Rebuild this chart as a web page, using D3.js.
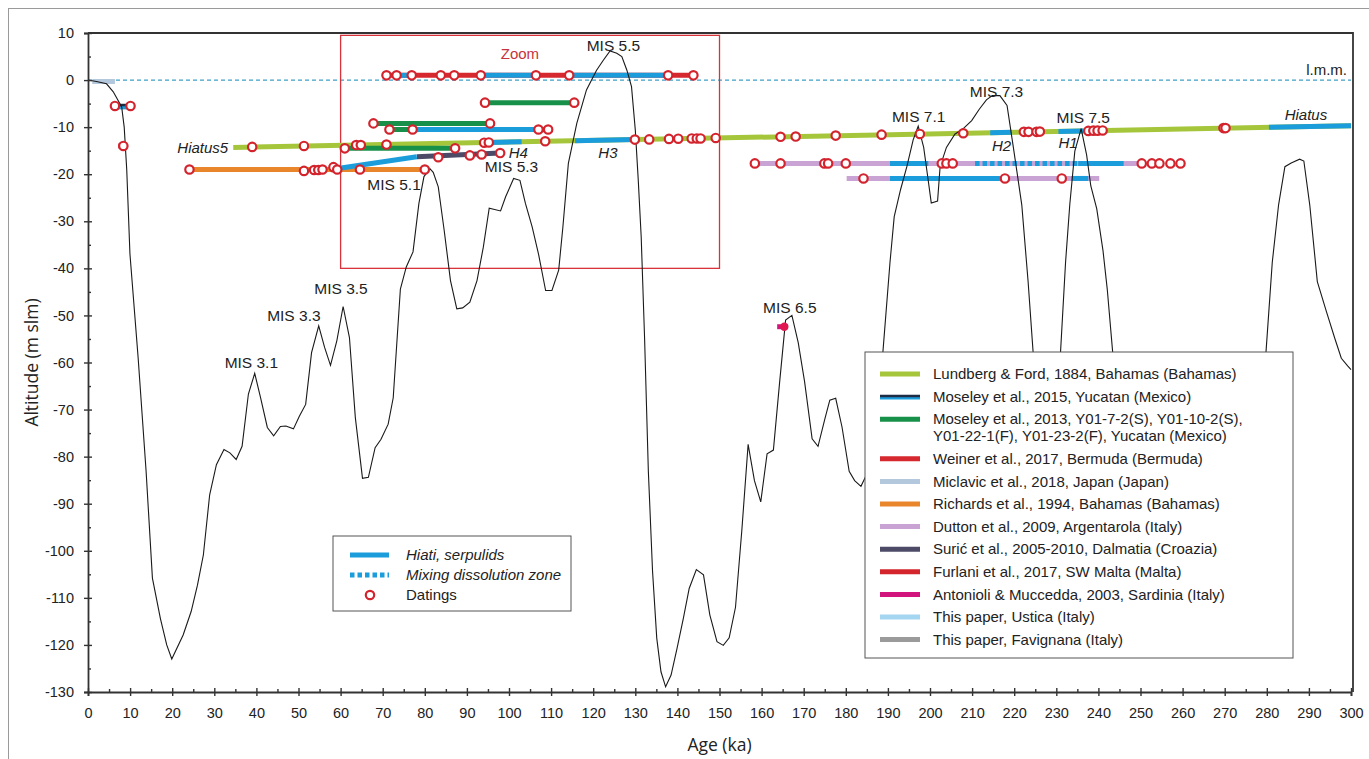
<!DOCTYPE html>
<html>
<head>
<meta charset="utf-8">
<script src="https://cdn.jsdelivr.net/npm/d3@7"></script>
<style>
  body { margin: 0; background: #fff; }
  text { font-family: "Liberation Sans", Arial, sans-serif; fill: #222; }
</style>
</head>
<body>
<div id="chart"></div>
<script>
// sea level curve (age ka, altitude m)
const seaLevel = [[0,0],[2,-0.3],[4.4,-0.8],[6,-2.5],[8,-5.7],[8.6,-10],[9.2,-19],[9.96,-36.9],[11.9,-58.9],[13.8,-83.1],[15.3,-105.8],[17.2,-114.4],[18.7,-120],[19.9,-123],[22.6,-117.9],[24.5,-112.9],[26,-107.3],[27.4,-100.9],[28.9,-88.1],[30.5,-81.7],[32.3,-78.5],[33.7,-79.2],[35.2,-80.6],[36.6,-77.8],[38.1,-66.7],[39.6,-62.3],[41,-67.5],[42.6,-73.8],[44.1,-75.6],[45.7,-73.6],[47,-73.5],[48.8,-74.1],[50.2,-71.4],[51.7,-68.9],[53.1,-57.9],[54.8,-52.2],[56.2,-56.8],[57.6,-60.6],[59.1,-55.4],[60.6,-48.1],[62.1,-54.7],[63.5,-71.7],[65.2,-84.6],[66.6,-84.4],[68.2,-78.1],[69.6,-76.3],[71.3,-73.1],[72.5,-67.5],[74.2,-44.4],[75.6,-39.7],[77.2,-36.5],[78.6,-26.2],[79.8,-20.5],[81.2,-18.8],[82,-19.6],[83.2,-22.7],[84.6,-31.9],[86.1,-42.6],[87.6,-48.6],[89,-48.4],[90.7,-47.2],[92.4,-42.6],[93.9,-35.5],[95.3,-27.2],[98,-27.8],[99.2,-24.8],[101.1,-20.9],[102.6,-21.3],[103.9,-26.2],[105.5,-31.2],[107,-36.9],[108.7,-44.7],[110.2,-44.7],[111.8,-40.4],[112.8,-31.2],[114.1,-17.7],[116.1,-9.2],[118.4,-2.1],[120.8,2.1],[122.4,4.2],[124,6.2],[125.6,5.7],[126.8,5],[128,2.1],[129.1,-1.4],[130,-10.6],[130.7,-21.2],[131.4,-33.3],[132.2,-54.7],[133.1,-83.1],[134.1,-104.4],[135.1,-118.6],[136.1,-125.7],[137.2,-128.9],[138.5,-126.4],[139.9,-120.8],[141.4,-114.4],[142.8,-108],[144.5,-104],[146.2,-105.1],[147.7,-113.6],[149.4,-119.3],[150.9,-120.1],[152.3,-118.5],[153.8,-112],[155.3,-95.7],[156.8,-77.4],[158.3,-85.1],[159.8,-89.6],[161.3,-79.4],[162.8,-78.6],[164.3,-64],[165.7,-51],[167.2,-50],[168.7,-55.8],[170.2,-64],[172,-76.2],[173.4,-77.8],[175,-72.1],[176.2,-68],[177.6,-67.6],[179.1,-73.7],[180.8,-83.1],[182.1,-85.1],[183.6,-86.3],[185.1,-83.5],[187,-72],[188.8,-57.9],[190.5,-38.7],[191.5,-29],[193,-23.3],[194.5,-18.4],[196,-12.7],[197.2,-9.8],[198.5,-14.3],[199.5,-20.8],[200.3,-26.1],[201.8,-25.7],[202.4,-18.4],[203.9,-14.3],[205.9,-11.5],[207.9,-10.3],[209.9,-8.6],[211.7,-6.2],[213.4,-4.2],[214.8,-3.3],[216.6,-3.3],[218.3,-5.4],[219.8,-14.3],[221.8,-26.5],[223.3,-42.8],[224.5,-57.9],[226,-68],[228,-70],[230,-64],[231,-57.9],[232.2,-38.7],[233.2,-26.5],[234.4,-15.1],[235.9,-10.3],[237.2,-15.9],[238.2,-22.5],[239.6,-27.3],[241.1,-36.3],[242.1,-44.4],[243.4,-57.9],[246,-75],[250,-90],[256,-100],[262,-95],[268,-85],[274,-75],[279.8,-57.9],[281.3,-38.7],[282.8,-26.5],[284.3,-18.4],[285.8,-17.6],[287.8,-16.8],[288.8,-17.2],[290.2,-26.5],[292,-42.8],[294.2,-49.3],[296.2,-55],[297.7,-59.1],[299.2,-60.7],[300,-61.5]];

const seriesKeys = ["lundberg","moseley15","moseley13","weiner","miclavic","richards","dutton","suric","furlani","antonioli","ustica","favignana"];
const seriesLabels = [
  ["Lundberg & Ford, 1884, Bahamas (Bahamas)"],
  ["Moseley et al., 2015, Yucatan (Mexico)"],
  ["Moseley et al., 2013, Y01-7-2(S), Y01-10-2(S),", "Y01-22-1(F), Y01-23-2(F), Yucatan (Mexico)"],
  ["Weiner et al., 2017, Bermuda (Bermuda)"],
  ["Miclavic et al., 2018, Japan (Japan)"],
  ["Richards et al., 1994, Bahamas (Bahamas)"],
  ["Dutton et al., 2009, Argentarola (Italy)"],
  ["Surić et al., 2005-2010, Dalmatia (Croazia)"],
  ["Furlani et al., 2017, SW Malta (Malta)"],
  ["Antonioli & Muccedda, 2003, Sardinia (Italy)"],
  ["This paper, Ustica (Italy)"],
  ["This paper, Favignana (Italy)"]
];

// speleothem / core series: [series, [[age, alt], ...]]
const seriesLines = [
  ["lundberg", [[34.5,-14.3],[300,-9.7]]],
  ["moseley15", [[6.4,-5.5],[10.1,-5.5]]],
  ["moseley13", [[94.3,-4.8],[115.5,-4.8]]],
  ["moseley13", [[67.8,-9.2],[95.5,-9.2]]],
  ["moseley13", [[71.6,-10.5],[109.3,-10.5]]],
  ["moseley13", [[61.0,-14.5],[87.2,-14.5]]],
  ["weiner", [[70.9,1.0],[143.8,1.0]]],
  ["richards", [[24.1,-19.0],[80.0,-19.0]]],
  ["suric", [[78.1,-16.3],[97.9,-15.5]]],
  ["dutton", [[158.4,-17.7],[250,-17.7]]],
  ["dutton", [[180.2,-20.9],[240.2,-20.9]]],
  ["furlani", [[7.2,-14.0],[8.4,-14.0]]],
  ["antonioli", [[163.7,-52.4],[166.2,-52.4]]],
  ["miclavic", [[1.0,-0.3],[6.4,-0.3]]]
];

// hiati (serpulids)
const hiati = [
  [[73.3,1.0],[76.9,1.0]],
  [[93.9,1.0],[106.4,1.0]],
  [[114.3,1.0],[137.8,1.0]],
  [[77.1,-10.5],[107.0,-10.5]],
  [[95.3,-13.25],[103.0,-13.11]],
  [[115.7,-12.89],[129.9,-12.65]],
  [[214.3,-11.18],[219.4,-11.1]],
  [[230.5,-10.9],[236.4,-10.8]],
  [[280.5,-10.04],[300,-9.7]],
  [[58.5,-18.9],[78.1,-16.3]],
  [[190.5,-17.7],[199.6,-17.7]],
  [[235.2,-17.7],[246.0,-17.7]],
  [[190.5,-20.9],[216.6,-20.9]],
  [[233.6,-20.9],[237.6,-20.9]]
];
const mixingZones = [[[210.7,-17.7],[235.2,-17.7]]];

const datings = [
  [6.4,-5.5],[10.1,-5.5],[8.4,-14.0],
  [39.0,-14.2],[51.3,-14.0],[63.7,-13.8],[64.8,-13.8],[70.9,-13.7],[94.1,-13.3],[95.2,-13.25],[108.6,-13.0],[129.9,-12.65],[133.3,-12.6],[138.0,-12.5],[140.2,-12.45],[143.4,-12.4],[144.6,-12.4],[145.5,-12.4],[149.1,-12.3],[164.5,-12.05],[168.1,-12.0],[177.6,-11.8],[188.5,-11.6],[197.6,-11.45],[207.9,-11.3],[222.3,-11.0],[223.4,-11.0],[225.3,-11.0],[226.1,-10.95],[237.6,-10.8],[238.8,-10.75],[239.8,-10.75],[241.0,-10.7],[269.7,-10.2],[270.2,-10.2],
  [61.0,-14.5],[87.2,-14.5],[94.3,-4.8],[115.5,-4.8],[67.8,-9.2],[95.5,-9.2],[71.6,-10.5],[77.1,-10.5],[107.0,-10.5],[109.3,-10.5],
  [70.9,1.0],[73.3,1.0],[76.9,1.0],[83.8,1.0],[87.0,1.0],[93.3,1.0],[106.4,1.0],[114.3,1.0],[137.8,1.0],[143.8,1.0],
  [24.1,-19.0],[51.3,-19.3],[53.7,-19.1],[54.7,-19.1],[55.7,-19.0],[58.3,-18.5],[59.2,-19.0],[64.6,-19.0],[80.0,-19.0],
  [83.2,-16.4],[90.7,-16.0],[93.5,-15.8],[97.9,-15.5],
  [158.4,-17.7],[164.5,-17.7],[174.9,-17.7],[175.8,-17.7],[180.0,-17.7],[202.8,-17.7],[203.9,-17.7],[205.4,-17.7],[250.3,-17.7],[252.7,-17.7],[254.5,-17.7],[257.1,-17.7],[259.5,-17.7],
  [184.2,-20.9],[217.8,-20.9],[231.3,-20.9]
];
const filledDatings = [[165.4,-52.4]];

const misLabels = [["MIS 3.1",38.8,-60.1],["MIS 3.3",48.9,-50.1],["MIS 3.5",60.1,-44.4],["MIS 5.1",72.7,-22.3],["MIS 5.3",100.6,-18.4],["MIS 5.5",124.8,7.4],["MIS 6.5",166.7,-48.4],["MIS 7.1",197.3,-7.8],["MIS 7.3",215.8,-2.5],["MIS 7.5",236.4,-7.9]];
const hiatusLabels = [["Hiatus5",33.3,-14.3],["H4",102.2,-15.4],["H3",123.5,-15.4],["H2",217,-14.0],["H1",232.8,-13.3],["Hiatus",289.3,-7.4]];
const zoomBox = [[60,9.5],[150,-40]];

const xTicks = d3.range(0, 301, 10);
const yTicks = d3.range(-130, 11, 10);

const colors = {
  lundberg: "#a5c63b", moseley15: "#1d2b45", moseley13: "#17904a", weiner: "#d6282f",
  miclavic: "#b3c8dc", richards: "#e9862c", dutton: "#c9a3d3", suric: "#4c4a66",
  furlani: "#d4252c", antonioli: "#d1157d", ustica: "#a5d6f1", favignana: "#9a9a9a"
};
const hiatusColor = "#1c9ddb";
const datingColor = "#d3242e";

const width = 1369, height = 759;
const svg = d3.select("#chart").append("svg").attr("width", width).attr("height", height);

// figure frame
svg.append("rect").attr("x", 8.5).attr("y", 8.5).attr("width", 1362).attr("height", 752)
  .attr("fill", "none").attr("stroke", "#9a9a9a").attr("stroke-width", 1);

const x = d3.scaleLinear().domain([0, 300]).range([88, 1351]);
const y = d3.scaleLinear().domain([-130, 10]).range([692, 33]);
const line = d3.line().x(d => x(d[0])).y(d => y(d[1]));

// top and right frame of the plot
svg.append("path")
  .attr("d", `M${x(0)},${y(10)}H${x(300) + 2}V${y(-130)}`)
  .attr("fill", "none").attr("stroke", "#333").attr("stroke-width", 1.8);

// l.m.m. line
svg.append("line")
  .attr("x1", x(0)).attr("x2", x(300)).attr("y1", y(0)).attr("y2", y(0))
  .attr("stroke", "#3f9fc7").attr("stroke-width", 1.2).attr("stroke-dasharray", "4,3");
svg.append("text").attr("x", x(300) - 4).attr("y", y(0) - 5)
  .attr("text-anchor", "end").style("font-size", "15px").text("l.m.m.");

// zoom box
svg.append("rect")
  .attr("x", x(zoomBox[0][0])).attr("y", y(zoomBox[0][1]))
  .attr("width", x(zoomBox[1][0]) - x(zoomBox[0][0]))
  .attr("height", y(zoomBox[1][1]) - y(zoomBox[0][1]))
  .attr("fill", "none").attr("stroke", "#d8323a").attr("stroke-width", 1.3);
svg.append("text").attr("x", x(102.6)).attr("y", y(5.5)).attr("dy", "0.35em")
  .attr("text-anchor", "middle").style("font-size", "15px").style("fill", "#c8323a").text("Zoom");

// series
seriesLines.forEach(s => {
  if (s[0] === "moseley15") {
    svg.append("path").attr("d", line(s[1].map(d => [d[0], d[1] - 0.3])))
      .attr("stroke", hiatusColor).attr("stroke-width", 4).attr("fill", "none");
    svg.append("path").attr("d", line(s[1].map(d => [d[0], d[1] + 0.2])))
      .attr("stroke", colors.moseley15).attr("stroke-width", 2.5).attr("fill", "none");
  } else {
    svg.append("path").attr("d", line(s[1]))
      .attr("stroke", colors[s[0]]).attr("stroke-width", 5).attr("fill", "none");
  }
});

svg.selectAll(".hiatus").data(hiati).enter().append("path")
  .attr("class", "hiatus").attr("d", line)
  .attr("stroke", hiatusColor).attr("stroke-width", 5).attr("fill", "none");

svg.selectAll(".mixing").data(mixingZones).enter().append("path")
  .attr("class", "mixing").attr("d", line)
  .attr("stroke", hiatusColor).attr("stroke-width", 5).attr("fill", "none")
  .attr("stroke-dasharray", "4.5,3");

// sea level curve
svg.append("path").datum(seaLevel).attr("d", line)
  .attr("fill", "none").attr("stroke", "#1a1a1a").attr("stroke-width", 1.1);

// datings
svg.selectAll(".dating").data(datings).enter().append("circle")
  .attr("class", "dating").attr("cx", d => x(d[0])).attr("cy", d => y(d[1])).attr("r", 4.2)
  .attr("fill", "#fff").attr("stroke", datingColor).attr("stroke-width", 2.2);
svg.selectAll(".fdating").data(filledDatings).enter().append("circle")
  .attr("class", "fdating").attr("cx", d => x(d[0])).attr("cy", d => y(d[1])).attr("r", 4.2)
  .attr("fill", "#e0184f");

// labels
svg.selectAll(".mis").data(misLabels).enter().append("text")
  .attr("class", "mis").attr("x", d => x(d[1])).attr("y", d => y(d[2])).attr("dy", "0.35em")
  .attr("text-anchor", "middle").style("font-size", "15.5px").text(d => d[0]);
svg.selectAll(".hl").data(hiatusLabels).enter().append("text")
  .attr("class", "hl").attr("x", d => x(d[1])).attr("y", d => y(d[2])).attr("dy", "0.35em")
  .attr("text-anchor", d => d[0] === "Hiatus5" ? "end" : "middle")
  .style("font-size", "15px").style("font-style", "italic").text(d => d[0]);

// axes
const fmt = d => String(d);
const xAxis = svg.append("g").attr("transform", `translate(0,${y(-130)})`)
  .call(d3.axisBottom(x).tickValues(xTicks).tickSize(4).tickPadding(12).tickFormat(fmt));
xAxis.selectAll(".tick line").attr("y1", -4).attr("y2", 4);
svg.append("g").attr("transform", `translate(0,${y(-130)})`)
  .call(d3.axisBottom(x).tickValues(d3.range(5, 300, 10)).tickSize(-3).tickFormat(""))
  .select(".domain").remove();

const yAxis = svg.append("g").attr("transform", `translate(${x(0)},0)`)
  .call(d3.axisLeft(y).tickValues(yTicks).tickSize(4).tickPadding(10).tickFormat(fmt));
yAxis.selectAll(".tick line").attr("x1", 4).attr("x2", -4);
svg.append("g").attr("transform", `translate(${x(0)},0)`)
  .call(d3.axisLeft(y).tickValues(d3.range(-125, 10, 10)).tickSize(-3).tickFormat(""))
  .select(".domain").remove();

svg.selectAll(".domain").attr("stroke", "#333").attr("stroke-width", 1.8);
svg.selectAll(".tick line").attr("stroke", "#333").attr("stroke-width", 1.4);
svg.selectAll(".tick text").style("font-size", "14.5px").style("font-family", "'Liberation Sans', Arial, sans-serif").attr("fill", "#222");

svg.append("text").attr("x", (x(0) + x(300)) / 2).attr("y", 751)
  .attr("text-anchor", "middle").style("font-size", "17.5px").style("font-family", "'Open Sans', sans-serif")
  .text("Age (ka)");
svg.append("text").attr("transform", `translate(38,${(y(10) + y(-130)) / 2}) rotate(-90)`)
  .attr("text-anchor", "middle").style("font-size", "17.5px").style("font-family", "'Open Sans', sans-serif")
  .text("Altitude (m slm)");

// main legend
const lg = svg.append("g").attr("transform", "translate(865,352)");
lg.append("rect").attr("width", 428).attr("height", 306)
  .attr("fill", "#fff").attr("stroke", "#555").attr("stroke-width", 1);
let rowY = 22;
seriesKeys.forEach((k, i) => {
  if (k === "moseley15") {
    lg.append("line").attr("x1", 15).attr("x2", 55).attr("y1", rowY + 1).attr("y2", rowY + 1)
      .attr("stroke", hiatusColor).attr("stroke-width", 4);
    lg.append("line").attr("x1", 15).attr("x2", 55).attr("y1", rowY - 0.5).attr("y2", rowY - 0.5)
      .attr("stroke", colors[k]).attr("stroke-width", 2.5);
  } else {
    lg.append("line").attr("x1", 15).attr("x2", 55).attr("y1", rowY).attr("y2", rowY)
      .attr("stroke", colors[k]).attr("stroke-width", 5);
  }
  seriesLabels[i].forEach((t, j) => {
    lg.append("text").attr("x", 68).attr("y", rowY + j * 17).attr("dy", "0.35em")
      .style("font-size", "15px").text(t);
  });
  rowY += 22.6 + (seriesLabels[i].length - 1) * 17;
});

// hiatus legend
const hl = svg.append("g").attr("transform", "translate(333,536)");
hl.append("rect").attr("width", 238).attr("height", 75)
  .attr("fill", "#fff").attr("stroke", "#555").attr("stroke-width", 1);
hl.append("line").attr("x1", 17).attr("x2", 56).attr("y1", 19).attr("y2", 19)
  .attr("stroke", hiatusColor).attr("stroke-width", 5);
hl.append("line").attr("x1", 17).attr("x2", 56).attr("y1", 39).attr("y2", 39)
  .attr("stroke", hiatusColor).attr("stroke-width", 5).attr("stroke-dasharray", "4.5,3");
hl.append("circle").attr("cx", 37).attr("cy", 59).attr("r", 4.2)
  .attr("fill", "#fff").attr("stroke", datingColor).attr("stroke-width", 2.2);
[["Hiati, serpulids", true], ["Mixing dissolution zone", true], ["Datings", false]].forEach((t, i) => {
  hl.append("text").attr("x", 73).attr("y", 19 + i * 20).attr("dy", "0.35em")
    .style("font-size", "15px").style("font-style", t[1] ? "italic" : "normal").text(t[0]);
});
</script>
</body>
</html>
